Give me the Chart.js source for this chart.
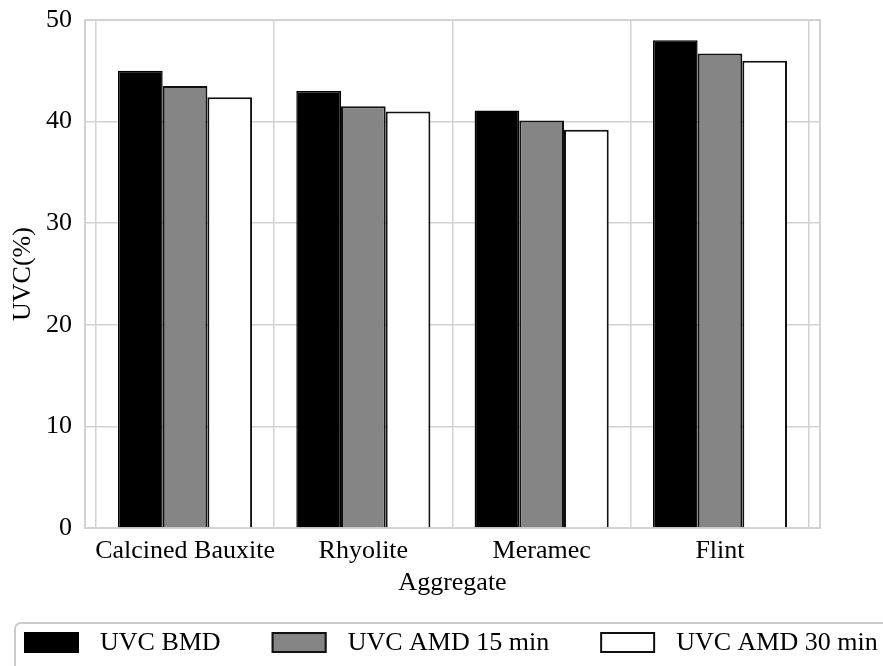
<!DOCTYPE html>
<html>
<head>
<meta charset="utf-8">
<script src="https://cdn.jsdelivr.net/npm/chart.js@4/dist/chart.umd.min.js"></script>
<style>
  html, body { margin: 0; padding: 0; background: #fff; }
  #wrap { width: 883px; height: 666px; }
</style>
</head>
<body>
<div id="wrap"><canvas id="c" width="883" height="666"></canvas></div>
<script>
// Aggregate types on the x axis
const categories = ['Calcined Bauxite', 'Rhyolite', 'Meramec', 'Flint'];
// UVC (%) per aggregate, for each measurement
const uvcBmd   = [45.0, 43.0, 41.1, 48.0];
const uvcAmd15 = [43.5, 41.5, 40.1, 46.7];
const uvcAmd30 = [42.4, 41.0, 39.2, 46.0];
const seriesNames = ['UVC BMD', 'UVC AMD 15 min', 'UVC AMD 30 min'];
const yTicks = [0, 10, 20, 30, 40, 50];

const FONT = '"Liberation Serif", "Times New Roman", serif';
const GRID = '#d2d2d2';
Chart.defaults.font.family = FONT;
Chart.defaults.color = '#000';

const toPoints = vals => vals.map((v, i) => ({ x: i, y: v }));

// Light frame around the plotting area (top and right edges included)
const framePlugin = {
  id: 'plotFrame',
  beforeDatasetsDraw(chart) {
    const { ctx, chartArea: a } = chart;
    ctx.save();
    ctx.strokeStyle = GRID;
    ctx.lineWidth = 2;
    ctx.strokeRect(a.left, a.top, a.right - a.left, a.bottom - a.top);
    ctx.restore();
  }
};

// Boxed legend along the bottom edge
const boxLegend = {
  id: 'boxLegend',
  afterDraw(chart) {
    const ctx = chart.ctx;
    ctx.save();
    ctx.strokeStyle = '#cbcbcb';
    ctx.lineWidth = 2;
    ctx.beginPath();
    ctx.roundRect(15, 623, chart.width, 100, 6);
    ctx.stroke();

    ctx.font = '26px ' + FONT;
    ctx.textBaseline = 'middle';
    const boxW = 55, boxH = 21, boxY = 632;
    let x = 24;
    chart.data.datasets.forEach(ds => {
      ctx.fillStyle = ds.backgroundColor;
      ctx.fillRect(x, boxY, boxW, boxH);
      ctx.strokeStyle = ds.borderColor;
      ctx.lineWidth = 2;
      ctx.strokeRect(x + 1, boxY + 1, boxW - 2, boxH - 2);
      const tx = x + boxW + 21;
      ctx.fillStyle = '#000';
      ctx.fillText(ds.label, tx, boxY + boxH / 2 + 1);
      x = tx + ctx.measureText(ds.label).width + 51;
    });
    ctx.restore();
  }
};

new Chart(document.getElementById('c'), {
  type: 'bar',
  data: {
    datasets: [
      { label: seriesNames[0], data: toPoints(uvcBmd),   backgroundColor: '#000000', borderColor: '#000000', borderWidth: 1.5 },
      { label: seriesNames[1], data: toPoints(uvcAmd15), backgroundColor: '#858585', borderColor: '#111111', borderWidth: 2 },
      { label: seriesNames[2], data: toPoints(uvcAmd30), backgroundColor: '#ffffff', borderColor: '#111111', borderWidth: 2 }
    ]
  },
  options: {
    responsive: false,
    animation: false,
    devicePixelRatio: 1,
    layout: { padding: { top: 20, right: 63, bottom: 60, left: 0 } },
    datasets: { bar: { categoryPercentage: 0.752, barPercentage: 1.0 } },
    plugins: { legend: { display: false }, tooltip: { enabled: false } },
    scales: {
      x: {
        type: 'linear',
        min: -0.561,
        max: 3.561,
        offset: false,
        afterBuildTicks: s => { s.ticks = categories.map((_, i) => ({ value: i })); },
        afterFit: s => { s.height = 78; s.paddingLeft = 0; s.paddingRight = 0; },
        grid: { color: GRID, lineWidth: 1.5, drawTicks: false },
        border: { color: GRID, width: 1.5 },
        ticks: {
          autoSkip: false, maxRotation: 0, minRotation: 0, padding: 8,
          font: { size: 26 },
          callback: v => categories[v]
        },
        title: { display: true, text: 'Aggregate', font: { size: 26 }, padding: { top: 0, bottom: 7 } }
      },
      y: {
        min: 0,
        max: 50,
        afterBuildTicks: s => { s.ticks = yTicks.map(v => ({ value: v })); },
        afterFit: s => { s.width = 85; s.paddingTop = 0; s.paddingBottom = 0; },
        grid: { color: GRID, lineWidth: 1.5, drawTicks: false },
        border: { color: GRID, width: 1.5 },
        ticks: { padding: 13, font: { size: 26 } },
        title: { display: true, text: 'UVC(%)', font: { size: 26 }, padding: { top: 8, bottom: 0 } }
      }
    }
  },
  plugins: [framePlugin, boxLegend]
});
</script>
</body>
</html>
